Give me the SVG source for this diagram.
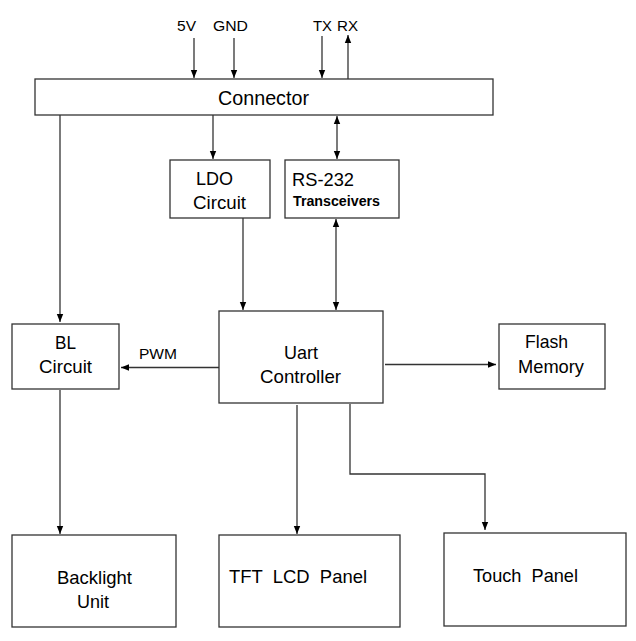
<svg xmlns="http://www.w3.org/2000/svg" width="636" height="641" viewBox="0 0 636 641">
<defs>
<marker id="ah" viewBox="0 0 10 10" refX="10" refY="5" markerWidth="8" markerHeight="8" markerUnits="userSpaceOnUse" orient="auto-start-reverse">
<path d="M0,1 L10,5 L0,9 z" fill="#000"/>
</marker>
</defs>
<style>
.box{fill:#fff;stroke:#333;stroke-width:1.3}
.t{font-family:"Liberation Sans",Arial,sans-serif;font-size:19px;fill:#000}
.s{font-family:"Liberation Sans",Arial,sans-serif;font-size:15px;fill:#000}
.b{font-family:"Liberation Sans",Arial,sans-serif;font-size:14px;font-weight:bold;fill:#000}
.c{fill:none;stroke:#333;stroke-width:1.3}
</style>
<rect width="636" height="641" fill="#fff"/>
<g id="connectors">
<line class="c" x1="194" y1="38" x2="194" y2="78" marker-end="url(#ah)"/>
<line class="c" x1="234" y1="38" x2="234" y2="78" marker-end="url(#ah)"/>
<line class="c" x1="322" y1="36" x2="322" y2="78" marker-end="url(#ah)"/>
<line class="c" x1="348" y1="79" x2="348" y2="35" marker-end="url(#ah)"/>
<line class="c" x1="60" y1="115" x2="60" y2="322" marker-end="url(#ah)"/>
<line class="c" x1="213" y1="115" x2="213" y2="159" marker-end="url(#ah)"/>
<line class="c" x1="337" y1="116" x2="337" y2="159" marker-start="url(#ah)" marker-end="url(#ah)"/>
<line class="c" x1="243" y1="218" x2="243" y2="310" marker-end="url(#ah)"/>
<line class="c" x1="336" y1="219" x2="336" y2="310" marker-start="url(#ah)" marker-end="url(#ah)"/>
<line class="c" x1="219" y1="367.5" x2="121" y2="367.5" marker-end="url(#ah)"/>
<line class="c" x1="385" y1="364.5" x2="496" y2="364.5" marker-end="url(#ah)"/>
<line class="c" x1="60" y1="390" x2="60" y2="534" marker-end="url(#ah)"/>
<line class="c" x1="297" y1="405" x2="297" y2="534" marker-end="url(#ah)"/>
<polyline class="c" points="350,404 350,474 485,474 485,530" marker-end="url(#ah)"/>
<text class="s" x="177" y="31" textLength="19" lengthAdjust="spacingAndGlyphs">5V</text>
<text class="s" x="213" y="31" textLength="35" lengthAdjust="spacingAndGlyphs">GND</text>
<text class="s" x="313" y="31" textLength="19" lengthAdjust="spacingAndGlyphs">TX</text>
<text class="s" x="337" y="31" textLength="21" lengthAdjust="spacingAndGlyphs">RX</text>
<text class="s" x="139" y="359" textLength="38" lengthAdjust="spacingAndGlyphs">PWM</text>
</g>
<g id="connector"><rect class="box" x="35" y="79" width="458" height="36"/><text class="t" style="font-size:20px" x="218" y="105" textLength="91" lengthAdjust="spacingAndGlyphs">Connector</text></g>
<g id="ldo"><rect class="box" x="170" y="160" width="100" height="58"/><text class="t" x="196" y="185" textLength="37" lengthAdjust="spacingAndGlyphs">LDO</text><text class="t" x="193" y="209" textLength="53" lengthAdjust="spacingAndGlyphs">Circuit</text></g>
<g id="rs232"><rect class="box" x="285" y="160" width="114" height="58"/><text class="t" x="292" y="186" textLength="62" lengthAdjust="spacingAndGlyphs">RS-232</text><text class="b" x="293" y="206" textLength="87" lengthAdjust="spacingAndGlyphs">Transceivers</text></g>
<g id="uart"><rect class="box" x="219" y="311" width="164" height="92"/><text class="t" x="284" y="359" textLength="34" lengthAdjust="spacingAndGlyphs">Uart</text><text class="t" x="260" y="383" textLength="81" lengthAdjust="spacingAndGlyphs">Controller</text></g>
<g id="bl"><rect class="box" x="12" y="324" width="107" height="65"/><text class="t" x="55" y="349" textLength="21" lengthAdjust="spacingAndGlyphs">BL</text><text class="t" x="39" y="373" textLength="53" lengthAdjust="spacingAndGlyphs">Circuit</text></g>
<g id="flash"><rect class="box" x="499" y="324" width="106" height="65"/><text class="t" x="525" y="348" textLength="43" lengthAdjust="spacingAndGlyphs">Flash</text><text class="t" x="518" y="373" textLength="66" lengthAdjust="spacingAndGlyphs">Memory</text></g>
<g id="backlight"><rect class="box" x="12" y="535" width="164" height="92"/><text class="t" x="57" y="584" textLength="75" lengthAdjust="spacingAndGlyphs">Backlight</text><text class="t" x="77" y="608" textLength="32" lengthAdjust="spacingAndGlyphs">Unit</text></g>
<g id="tft"><rect class="box" x="219" y="535" width="181" height="92"/><text class="t" x="229" y="583" textLength="138" lengthAdjust="spacingAndGlyphs" xml:space="preserve">TFT  LCD  Panel</text></g>
<g id="touch"><rect class="box" x="444" y="533" width="182" height="93"/><text class="t" x="473" y="582" textLength="105" lengthAdjust="spacingAndGlyphs" xml:space="preserve">Touch  Panel</text></g>
</svg>
